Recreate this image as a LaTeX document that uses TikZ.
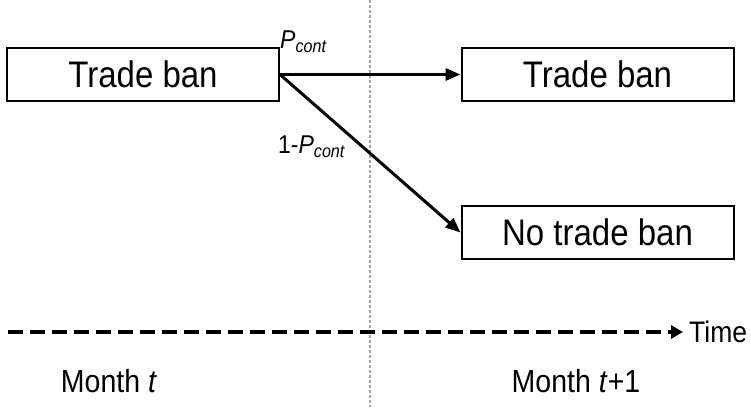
\documentclass[tikz,border=0pt]{standalone}
\usepackage{fontspec}
\setmainfont{Liberation Sans}
\usetikzlibrary{arrows.meta}
\newcommand{\tall}[1]{\scalebox{1}[1.12]{#1}}
\tikzset{
  statebox/.style={draw, line width=2pt, minimum width=272pt, minimum height=53pt,
    inner sep=0pt, font=\fontsize{33}{33}\selectfont},
  branch/.style={line width=3pt, -{Triangle[length=15pt,width=12pt]}},
  prob/.style={inner sep=0pt, anchor=base west, font=\fontsize{23}{23}\selectfont},
  label/.style={inner sep=0pt, anchor=base, font=\fontsize{28.5}{28.5}\selectfont},
}
\begin{document}
\begin{tikzpicture}[x=1pt, y=-1pt]
  \useasboundingbox (0,0) rectangle (751,407);
  % boundary between the two months
  \draw[gray!70, line width=1.5pt, dash pattern=on 3pt off 2pt] (370,0) -- (370,407);
  % states
  \node[statebox] (now) at (143,74.5) {\tall{Trade ban}};
  \node[statebox] (ban) at (597.5,74.5) {\tall{Trade ban}};
  \node[statebox] (noban) at (597.5,232.5) {\tall{No trade ban}};
  % transitions
  \coordinate (fork) at (now.east);
  \draw[branch] (fork) -- (ban.west);
  \draw[branch] (fork) -- (noban.west);
  \node[prob] (pc) at (280,48) {\tall{\textit{P}\textsubscript{\textit{cont}}}};
  \node[prob] (qc) at (278,153) {\tall{1-\textit{P}\textsubscript{\textit{cont}}}};
  % time axis
  \coordinate (t0) at (8,332);
  \node[label, anchor=west, font=\fontsize{26.5}{26.5}\selectfont] (time) at (689,332) {\tall{Time}};
  \draw[line width=4pt, dash pattern=on 15pt off 7pt, -{Triangle[length=12pt,width=13pt]},
        shorten >=6pt] (t0) -- (time.west);
  \node[label] (m1) at (109,392) {\tall{Month \textit{t}}};
  \node[label] (m2) at (576,392) {\tall{Month \textit{t}+1}};
\end{tikzpicture}
\end{document}
